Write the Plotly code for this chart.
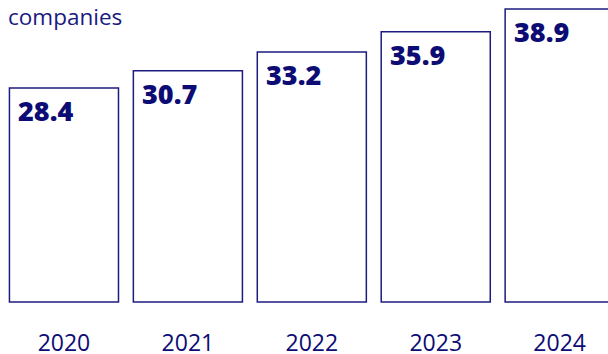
import plotly.graph_objects as go

years = ["2020", "2021", "2022", "2023", "2024"]
values = [28.4, 30.7, 33.2, 35.9, 38.9]
title_text = "companies"

NAVY_LINE = "#1c1c80"
NAVY_TEXT = "#0c0c74"
BAR_W = 0.88

fig = go.Figure()
fig.add_trace(go.Bar(
    x=list(range(len(years))),
    y=values,
    width=BAR_W,
    marker=dict(color="white", line=dict(color=NAVY_LINE, width=1.5)),
    hoverinfo="skip",
))

for i, v in enumerate(values):
    fig.add_annotation(
        x=i - BAR_W / 2, y=v, xref="x", yref="y",
        text=f"{v:.1f}", showarrow=False,
        xanchor="left", yanchor="top", xshift=7, yshift=-2,
        font=dict(family="Open Sans", size=27, color=NAVY_TEXT, weight=800),
    )

fig.update_layout(
    width=608, height=354,
    margin=dict(l=1.5, r=0, t=0, b=49, autoexpand=False),
    paper_bgcolor="white", plot_bgcolor="white",
    showlegend=False,
    title=dict(
        text=title_text, xref="container", yref="container",
        x=8 / 608, y=1 - 9 / 354, xanchor="left", yanchor="top",
        font=dict(family="Open Sans", size=22.5, color="#1a1a80"),
        pad=dict(t=0, l=0, r=0, b=0),
        automargin=False,
    ),
    xaxis=dict(
        range=[-0.5, 4.39], tickmode="array",
        tickvals=list(range(len(years))), ticktext=years,
        showgrid=False, zeroline=False, showline=False,
        ticks="", ticklabelstandoff=22, automargin=False,
        tickfont=dict(family="Open Sans", size=23, color=NAVY_TEXT),
    ),
    yaxis=dict(
        range=[-0.4, 40.1], visible=False, showgrid=False, zeroline=False,
        automargin=False,
    ),
)

fig.write_html("out.html")
